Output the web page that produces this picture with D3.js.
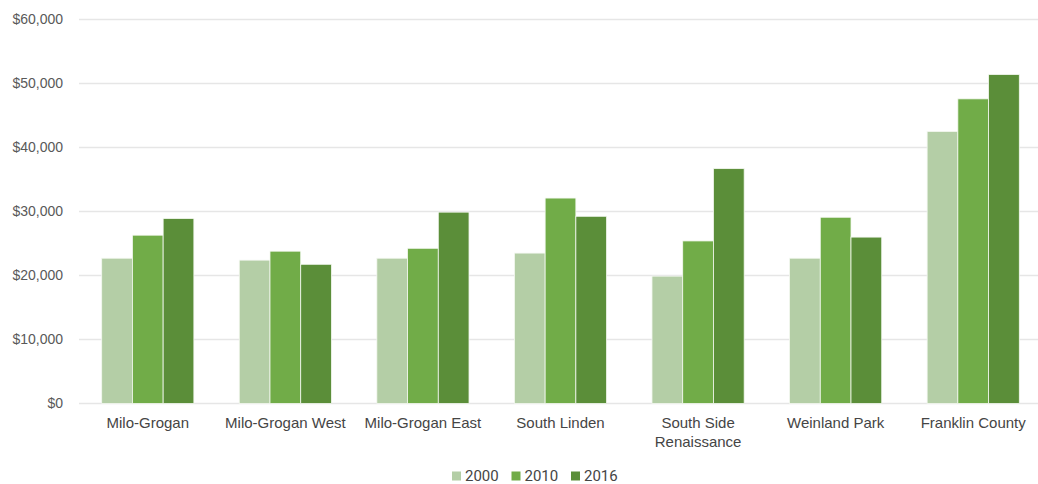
<html>
<head>
<script src="https://d3js.org/d3.v7.min.js"></script>
<style>
  * { margin: 0; padding: 0; }
  body { background: #fff; font-family: Roboto, sans-serif; }
  .grid line { stroke: #e6e6e6; stroke-width: 1.5; }
  .tick text { fill: #595959; font-size: 14px; }
  .xaxis .tick text { fill: #454545; font-size: 15px; }
</style>
</head>
<body>
<div id="chart"></div>
<script>
// neighbourhood income data
var areas = ['Milo-Grogan', 'Milo-Grogan West', 'Milo-Grogan East', 'South Linden', 'South Side Renaissance', 'Weinland Park', 'Franklin County'];
var years = ['2000', '2010', '2016'];
var v2000 = [22700, 22400, 22700, 23500, 19900, 22700, 42500];
var v2010 = [26300, 23800, 24250, 32100, 25400, 29100, 47600];
var v2016 = [28900, 21750, 29900, 29250, 36700, 26000, 51400];
var yTicks = [0, 10000, 20000, 30000, 40000, 50000, 60000];
var colors = ['#b4cea6', '#71ac48', '#5b8e39'];

var series = [v2000, v2010, v2016];

var width = 1038, height = 484;
var plotLeft = 79, plotRight = 1042, plotTop = 19.5, plotBottom = 403.5;

var svg = d3.select('#chart').append('svg')
  .attr('width', width)
  .attr('height', height);

var y = d3.scaleLinear().domain([0, 60000]).range([plotBottom, plotTop]);

var x = d3.scaleBand().domain(areas).range([plotLeft, plotRight])
  .paddingInner(0.33).paddingOuter(0.165);

var xs = d3.scaleBand().domain(years).range([0, x.bandwidth()]);

// gridlines
svg.append('g').attr('class', 'grid')
  .selectAll('line').data(yTicks).enter().append('line')
  .attr('x1', plotLeft).attr('x2', plotRight)
  .attr('y1', function (d) { return y(d); })
  .attr('y2', function (d) { return y(d); });

// y axis labels
var yAxis = d3.axisLeft(y).tickValues(yTicks)
  .tickFormat(function (d) { return '$' + d3.format(',')(d); })
  .tickSize(0).tickPadding(16);
var ya = svg.append('g').attr('transform', 'translate(' + plotLeft + ',0)').call(yAxis);
ya.select('.domain').remove();

// bars
var groups = svg.selectAll('.area').data(areas).enter().append('g')
  .attr('transform', function (d) { return 'translate(' + x(d) + ',0)'; });

groups.selectAll('rect')
  .data(function (d, i) {
    return years.map(function (yr, j) { return { year: yr, value: series[j][i], k: j }; });
  })
  .enter().append('rect')
  .attr('x', function (d) { return xs(d.year); })
  .attr('y', function (d) { return y(d.value); })
  .attr('width', xs.bandwidth())
  .attr('height', function (d) { return y(0) - y(d.value); })
  .style('fill', function (d) { return colors[d.k]; })
  .style('stroke', '#f4f8f1')
  .style('stroke-width', 0.8);

// x axis labels
var xAxis = d3.axisBottom(x).tickSize(0).tickPadding(14);
var xa = svg.append('g').attr('class', 'xaxis')
  .attr('transform', 'translate(0,' + plotBottom + ')').call(xAxis);
xa.select('.domain').remove();
xa.selectAll('.tick text').each(function (d) {
  if (d === 'South Side Renaissance') {
    var t = d3.select(this);
    t.text(null);
    t.append('tspan').attr('x', 0).attr('dy', '0.71em').text('South Side');
    t.append('tspan').attr('x', 0).attr('dy', '1.27em').text('Renaissance');
    t.attr('dy', null);
  }
});

// legend
var legend = svg.append('g').attr('transform', 'translate(452,476)');
var item = legend.selectAll('g').data(years).enter().append('g')
  .attr('transform', function (d, i) { return 'translate(' + (i * 59.5) + ',0)'; });
item.append('rect')
  .attr('x', 0).attr('y', -4.5).attr('width', 9).attr('height', 9)
  .style('fill', function (d, i) { return colors[i]; });
item.append('text')
  .attr('x', 13).attr('y', 0).attr('dy', '0.35em')
  .style('font-size', '15px').style('fill', '#454545')
  .text(function (d) { return d; });
</script>
</body>
</html>
